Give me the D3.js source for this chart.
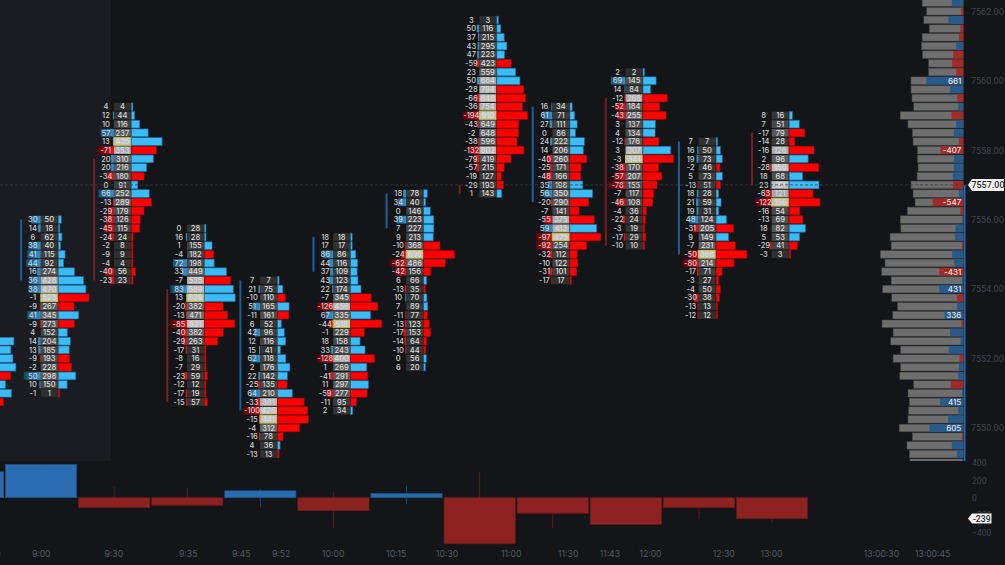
<!DOCTYPE html>
<html>
<head>
<meta charset="utf-8">
<script src="https://cdn.jsdelivr.net/npm/d3@7"></script>
<style>
html, body { margin: 0; background: #131519; overflow: hidden; }
text { font-family: Inter, "Noto Sans", sans-serif; }
.domain, .tick line { display: none; }
.priceLabel text, text.priceLabel { font-family: Roboto, sans-serif; }
</style>
</head>
<body>
<script>
// top price of each footprint, index 0 is the one cut by the left edge
var topPrices = [7552.5, 7556, 7559.25, 7555.75, 7554.25, 7555.5, 7556.75, 7561.75, 7559.25, 7560.25, 7558.25, 7559];

var deltaRows = [
  [13, 10, 12, 15, -9, 4, 10, -2],
  [30, 14, 6, 38, 41, 44, 16, 36, 38, -1, -9, 41, -9, 4, 14, 13, -9, -2, 50, 10, -1],
  [4, 12, 10, 57, 13, -71, 20, 20, -34, 0, 66, -13, -29, -38, -45, -24, -2, -9, -4, -40, -23],
  [0, 16, 1, -4, 72, 33, -7, 83, 13, -20, -13, -85, -40, -29, -17, -8, -7, -23, -12, -17, -15],
  [7, 21, -10, 51, -11, 6, 42, 12, 15, 62, 2, 22, -25, 64, -33, -100, -15, -4, -16, 4, -13],
  [18, 17, 86, 44, 37, 43, 22, -7, -126, 67, -44, -1, 18, 33, -128, 1, -41, 11, -59, -11, 2],
  [18, 34, 0, 39, 7, 9, -10, -24, -62, -42, 6, -13, 10, 7, -11, -13, -17, -14, -10, 0, 6],
  [3, 50, 37, 43, 47, -59, 23, 50, -28, -66, -36, -194, -43, -2, -38, -132, -79, -57, -19, -29, 1],
  [16, 61, 27, 0, 24, 14, -40, -25, -48, 35, 56, -20, -7, -55, 59, -97, -92, -32, -10, -31, -17],
  [2, 69, 14, -12, -52, -43, 3, 4, -12, 3, -3, -38, -57, -78, -7, -46, -4, -22, -3, -17, -10],
  [7, 16, 19, -2, 5, -13, 18, 21, 19, 48, -31, 9, -7, -50, -80, -17, -3, -4, -30, -13, -12],
  [8, 7, -17, -14, -16, 2, -28, 18, 23, -63, -122, -16, -13, 18, 5, -29, -3]
];

var volumeRows = [
  [278, 248, 268, 297, 244, 195, 254, 176],
  [50, 18, 62, 40, 115, 92, 274, 428, 470, 523, 267, 345, 273, 152, 204, 185, 193, 228, 298, 150, 1],
  [4, 44, 116, 237, 435, 353, 310, 216, 180, 91, 252, 289, 179, 126, 115, 24, 8, 9, 4, 56, 23],
  [28, 28, 155, 182, 198, 449, 535, 589, 629, 382, 471, 621, 382, 263, 31, 16, 29, 59, 12, 19, 57],
  [7, 75, 110, 165, 161, 52, 96, 116, 41, 118, 176, 142, 135, 210, 381, 428, 441, 312, 78, 36, 13],
  [18, 17, 86, 116, 109, 123, 174, 345, 456, 335, 518, 229, 158, 243, 400, 269, 291, 297, 277, 95, 34],
  [78, 40, 146, 223, 227, 213, 368, 696, 486, 156, 66, 35, 70, 89, 77, 123, 153, 64, 44, 56, 20],
  [3, 116, 215, 295, 223, 423, 559, 684, 794, 848, 754, 910, 649, 648, 596, 802, 419, 215, 127, 193, 143],
  [34, 71, 111, 86, 222, 206, 260, 171, 166, 198, 350, 290, 141, 375, 413, 475, 254, 112, 122, 101, 17],
  [2, 145, 84, 268, 184, 255, 137, 134, 176, 307, 341, 170, 207, 155, 117, 108, 36, 24, 19, 29, 10],
  [7, 50, 73, 46, 73, 51, 28, 59, 31, 124, 205, 149, 231, 368, 214, 71, 27, 50, 38, 13, 12],
  [16, 51, 79, 28, 126, 96, 150, 68, 151, 121, 156, 54, 69, 82, 53, 41, 3]
];

// open / close side lines next to each footprint
var sideFrom = [null, 7556, 7557.75, 7554, 7554.25, 7555.5, 7556.75, 7557, 7559.25, 7559.5, 7558.25, 7558.5];
var sideTo = [null, 7554.25, 7554.25, 7550.75, 7550.5, 7554.5, 7555.75, 7556.75, 7556.5, 7555.25, 7555, 7557];
var sideUp = [false, true, false, false, true, true, true, false, true, false, true, false];

// lower panel: bar delta with its high and low
var barDelta = [298, 383, -115, -87, 80, -149, 50, -530, -179, -307, -115, -239];
var barHigh = [298, 383, 126, 108, 100, 69, 137, 298, 0, 0, 0, 0];
var barLow = [0, 0, -115, -87, -110, -344, -76, -530, -350, -307, -247, -282];

// right side session profile, from 7562.25 downwards
var profileTop = 7562.25;
var profileVolume = [736, 657, 705, 609, 736, 748, 730, 621, 621, 935, 935, 917, 886, 1128, 989, 911, 898, 820, 820, 808, 826, 935, 898, 862, 1001, 1128, 1116, 1309, 1290, 1483, 1399, 1459, 1290, 1441, 1278, 1176, 1260, 1453, 1254, 1296, 1122, 1254, 1122, 1134, 886, 989, 965, 977, 989, 1146, 911, 1007, 965, 953];
var profileDelta = [205, -36, 265, -54, -78, 127, -181, -199, -127, 661, 235, -109, 90, -211, 127, 169, -78, -407, 169, 169, 187, -181, 78, -547, -54, 18, 139, 145, -24, 199, 163, -431, 24, 431, -115, 115, 336, -36, 235, 48, 259, -66, 78, 90, -223, 24, 415, 90, 271, 605, -24, 205, 115, 24];

var priceTicks = [7562, 7560, 7558, 7556, 7554, 7552, 7550];
var lowerTicks = [400, 200, 0, -200, -400];
var timeLabels = ["8:30", "9:00", "9:30", "9:35", "9:45", "9:52", "10:00", "10:15", "10:30", "11:00", "11:30", "11:43", "12:00", "12:30", "13:00", "13:00:30", "13:00:45"];
var timeSlots = [0.315, 0.995, 1.988, 3.006, 3.731, 4.278, 4.99, 5.852, 6.549, 7.425, 8.205, 8.774, 9.331, 10.334, 10.986, 12.49, 13.19];
var lastPrice = 7557;
var lastDelta = -239;

var width = 1005, height = 565, panelBottom = 461;
var BLUE = "#3bbcf7", RED = "#ff0000";

var svg = d3.select("body").append("svg")
    .attr("width", width)
    .attr("height", height)
    .style("display", "block");

var defs = svg.append("defs");
defs.append("clipPath").attr("id", "panel").append("rect")
    .attr("width", 966).attr("height", panelBottom);

function colGradient(id, dark, bright) {
    var g = defs.append("linearGradient").attr("id", id)
        .attr("gradientUnits", "userSpaceOnUse")
        .attr("x1", -17).attr("x2", 0).attr("y1", 0).attr("y2", 0);
    g.append("stop").attr("offset", 0).attr("stop-color", dark);
    g.append("stop").attr("offset", 1).attr("stop-color", bright);
}
colGradient("blueCol", "#14455f", "#2f93cc");
colGradient("redCol", "#4a0408", "#e8101c");

svg.append("rect").attr("width", width).attr("height", height).attr("fill", "#131519");
svg.append("rect").attr("width", 111).attr("height", panelBottom).attr("fill", "#1a1c21");

var x = d3.scaleLinear().domain([0, 11]).range([-32, 772]);
var y = d3.scaleLinear().domain([7557, 7550]).range([184.9, 428]);
var yLower = d3.scaleLinear().domain([0, 200]).range([497.7, 480.3]);
var profileX = d3.scaleLinear().domain([0, 661]).range([963.3, 926.3]);

var step = 0.25;
var rowH = Math.abs(y(0) - y(step)) - 1;
var cellW = 17, colShift = 8.2;

var main = svg.append("g").attr("clip-path", "url(#panel)");

// session profile
var profile = main.append("g");
profileVolume.forEach(function (v, i) {
    var p = profileTop - i * step;
    var d = profileDelta[i];
    profile.append("rect")
        .attr("x", profileX(v))
        .attr("y", y(p) - rowH / 2)
        .attr("width", profileX(0) - profileX(v))
        .attr("height", rowH)
        .attr("fill", "#6e6e6e")
        .attr("stroke", "#3c3c3c")
        .attr("stroke-width", 0.5);
    profile.append("rect")
        .attr("x", profileX(Math.abs(d)))
        .attr("y", y(p) - rowH / 2)
        .attr("width", profileX(0) - profileX(Math.abs(d)))
        .attr("height", rowH)
        .attr("fill", d < 0 ? "#a32a2a" : "#27598a");
    if (Math.abs(d) > 300) {
        profile.append("text")
            .attr("x", profileX(0) - 2)
            .attr("y", y(p) + 3)
            .attr("text-anchor", "end")
            .attr("font-size", 8)
            .attr("font-weight", 500)
            .attr("fill", "#e4e4e4")
            .text(d);
    }
});

main.append("line")
    .attr("x1", 964.7).attr("x2", 964.7)
    .attr("y1", y(lastPrice)).attr("y2", panelBottom)
    .attr("stroke", "#1f6fb8").attr("stroke-width", 1.5);

// footprints
topPrices.forEach(function (top, c) {
    var deltas = deltaRows[c], vols = volumeRows[c];
    var maxVol = d3.max(vols);
    var maxDelta = d3.max(deltas, function (d) { return Math.abs(d); });
    var barW = d3.scaleLinear().domain([0, maxVol]).range([0, 30.7]);
    var colW = d3.scaleLinear().domain([maxDelta * 0.18, maxDelta]).range([1, 17]).clamp(true);
    var cx = x(c) + colShift;
    var g = main.append("g").attr("transform", "translate(" + (cx - cellW / 2) + ",0)");

    if (sideFrom[c] !== null) {
        main.append("line")
            .attr("x1", x(c) - 20).attr("x2", x(c) - 20)
            .attr("y1", y(sideFrom[c])).attr("y2", y(sideTo[c]))
            .attr("stroke", sideUp[c] ? "#1f5f98" : "#7d1f22")
            .attr("stroke-width", 2);
    }

    var rows = g.selectAll("g.row")
        .data(vols.map(function (v, i) { return { vol: v, delta: deltas[i], price: top - i * step }; }))
        .enter().append("g")
        .attr("class", "row")
        .attr("transform", function (d) { return "translate(0," + y(d.price) + ")"; });

    rows.filter(function (d) { return Math.abs(d.delta) >= maxDelta * 0.15; })
        .append("rect")
        .attr("x", function (d) { return -colW(Math.abs(d.delta)); })
        .attr("y", -rowH / 2)
        .attr("width", function (d) { return colW(Math.abs(d.delta)); })
        .attr("height", rowH)
        .attr("fill", function (d) { return d.delta < 0 ? "url(#redCol)" : "url(#blueCol)"; });

    rows.append("rect")
        .attr("y", -rowH / 2)
        .attr("width", cellW)
        .attr("height", rowH)
        .attr("fill", function (d) {
            var r = d.vol / maxVol;
            if (r >= 0.75) return d3.interpolateRgb("#a4a4a4", "#c2c2c2")((r - 0.75) / 0.25);
            return d3.interpolateRgb("#2e2e2e", "#6a6a6a")(r / 0.75);
        })
        .attr("stroke", function (d) { return d.vol === maxVol ? "#c3c23a" : "none"; })
        .attr("stroke-width", 1);

    rows.append("rect")
        .attr("x", cellW + 0.5)
        .attr("y", -rowH / 2)
        .attr("width", function (d) { return Math.max(barW(d.vol), 1.5); })
        .attr("height", rowH)
        .attr("fill", function (d) { return d.delta < 0 ? RED : BLUE; })
        .attr("stroke", function (d) { return d.delta < 0 ? "#a50a0a" : "#1f6f9f"; })
        .attr("stroke-width", 0.6);

    // the cut footprint has its number columns off the page
    if (c === 0) return;

    rows.append("text")
        .attr("x", -8)
        .attr("y", 2.7)
        .attr("text-anchor", "middle")
        .attr("font-size", 7.5)
        .attr("font-weight", 500)
        .attr("fill", "#cfcfcf")
        .text(function (d) { return d.delta; });

    rows.append("text")
        .attr("x", cellW / 2)
        .attr("y", 2.7)
        .attr("text-anchor", "middle")
        .attr("font-size", 7.5)
        .attr("font-weight", 500)
        .attr("fill", "#dcdcdc")
        .text(function (d) { return d.vol; });
});

// last price dashed line
svg.append("line")
    .attr("x1", 0).attr("x2", 968)
    .attr("y1", y(lastPrice)).attr("y2", y(lastPrice))
    .attr("stroke", "#3a3d44")
    .attr("stroke-dasharray", "3,2")
    .attr("stroke-width", 0.8);

// lower panel
var lower = svg.append("g");
barDelta.forEach(function (v, i) {
    var color = v < 0 ? "#8e2222" : "#2a6cb0";
    var edge = v < 0 ? "#6a1a1a" : "#1f4f80";
    lower.append("line")
        .attr("x1", x(i)).attr("x2", x(i))
        .attr("y1", yLower(barHigh[i])).attr("y2", yLower(barLow[i]))
        .attr("stroke", v < 0 ? "#5e1a1c" : "#1c4a78")
        .attr("stroke-width", 1);
    lower.append("rect")
        .attr("x", x(i) - 35.6)
        .attr("width", 71.2)
        .attr("y", Math.min(yLower(v), yLower(0)))
        .attr("height", Math.abs(yLower(v) - yLower(0)))
        .attr("fill", color)
        .attr("stroke", edge)
        .attr("stroke-width", 0.7);
});

// axes
var priceAxis = d3.axisRight(y).tickValues(priceTicks).tickFormat(d3.format(".2f")).tickSize(0).tickPadding(0);
svg.append("g").attr("class", "priceLabel").attr("transform", "translate(971,0)").call(priceAxis)
    .selectAll("text").attr("font-size", 9).attr("fill", "#41464e");

var lowerAxis = d3.axisRight(yLower).tickValues(lowerTicks).tickSize(0).tickPadding(0);
svg.append("g").attr("class", "priceLabel").attr("transform", "translate(972,0)").call(lowerAxis)
    .selectAll("text").attr("font-size", 8.6).attr("fill", "#41464e");

var timeAxis = d3.axisBottom(x).tickValues(timeSlots).tickSize(0).tickPadding(0)
    .tickFormat(function (d, i) { return timeLabels[i]; });
svg.append("g").attr("transform", "translate(0,551)").call(timeAxis)
    .selectAll("text").attr("font-size", 8.6).attr("fill", "#565a62");

svg.selectAll(".domain").remove();

// last value tags
function tag(yPos, label, left, w, h, size) {
    var tg = svg.append("g").attr("transform", "translate(" + left + "," + yPos + ")");
    tg.append("path")
        .attr("d", "M0,0L4," + (-h / 2) + "H" + w + "V" + (h / 2) + "H4Z")
        .attr("fill", "#f2f2f2");
    tg.append("text")
        .attr("class", "priceLabel")
        .attr("x", (w + 4) / 2)
        .attr("y", size * 0.36)
        .attr("text-anchor", "middle")
        .attr("font-size", size)
        .attr("font-weight", 500)
        .attr("fill", "#2a2c30")
        .text(label);
}
tag(y(lastPrice), d3.format(".2f")(lastPrice), 968, 36, 12, 9);
tag(yLower(lastDelta), lastDelta, 968, 23.5, 10, 8.6);
</script>
</body>
</html>
